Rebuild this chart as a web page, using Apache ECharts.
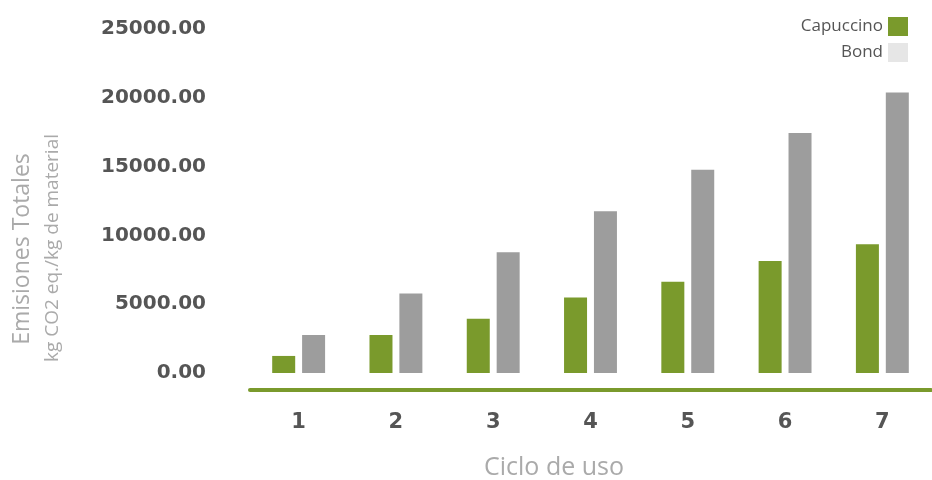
<!DOCTYPE html>
<html>
<head>
<meta charset="utf-8">
<script src="https://cdn.jsdelivr.net/npm/echarts@6/dist/echarts.min.js"></script>
<style>
  html, body { margin: 0; padding: 0; background: #fff; }
  #cn { width: 932px; height: 480px; }
</style>
</head>
<body>
<div id="cn"></div>
<script>
'use strict';

const arrCiclo = ['1', '2', '3', '4', '5', '6', '7'];
const arrCapuccino = [1240, 2760, 3950, 5480, 6630, 8140, 9360];
const arrBond = [2760, 5770, 8770, 11750, 14770, 17450, 20390];

const colGreen = '#7a9a2c';
const colGray = '#9d9d9d';

const chart = echarts.init(document.getElementById('cn'));

const option = {
    animation: false,
    grid: {
        left: 250,
        right: 1,
        top: 29,
        bottom: 107
    },
    legend: {
        orient: 'vertical',
        right: 19,
        top: 12,
        align: 'right',
        itemWidth: 20,
        itemHeight: 19,
        itemGap: 7,
        textStyle: {
            fontFamily: 'Open Sans',
            fontSize: 17,
            color: '#555'
        },
        data: [
            { name: 'Capuccino', icon: 'rect' },
            { name: 'Bond', icon: 'rect', itemStyle: { color: '#e6e6e6' } }
        ]
    },
    xAxis: {
        type: 'category',
        data: arrCiclo,
        offset: 17,
        axisLine: {
            onZero: false, // 線をゼロより下にずらす
            lineStyle: { color: colGreen, width: 4 }
        },
        axisTick: { show: false },
        axisLabel: {
            margin: 22,
            fontFamily: 'DejaVu Sans',
            fontWeight: 'bold',
            fontSize: 21,
            color: '#555'
        }
    },
    yAxis: {
        type: 'value',
        min: 0,
        max: 25000,
        interval: 5000,
        axisLine: { show: false },
        axisTick: { show: false },
        splitLine: { show: false },
        axisLabel: {
            margin: 44,
            fontFamily: 'DejaVu Sans',
            fontWeight: 'bold',
            fontSize: 20,
            color: '#555',
            formatter: v => v.toFixed(2)
        }
    },
    graphic: [
        {
            type: 'text',
            x: 22,
            y: 249,
            rotation: Math.PI / 2,
            style: {
                text: 'Emisiones Totales',
                fontFamily: 'Open Sans',
                fontSize: 23,
                fill: '#aaa',
                align: 'center',
                verticalAlign: 'middle'
            }
        },
        {
            type: 'text',
            x: 53,
            y: 248,
            rotation: Math.PI / 2,
            style: {
                text: 'kg CO2 eq./kg de material',
                fontFamily: 'Open Sans',
                fontSize: 19,
                fill: '#aaa',
                align: 'center',
                verticalAlign: 'middle'
            }
        },
        {
            type: 'text',
            x: 554,
            y: 468,
            style: {
                text: 'Ciclo de uso',
                fontFamily: 'Open Sans',
                fontSize: 25,
                fill: '#aaa',
                align: 'center',
                verticalAlign: 'middle'
            }
        }
    ],
    series: [
        {
            name: 'Capuccino',
            type: 'bar',
            barWidth: 23,
            barGap: '30%',
            itemStyle: { color: colGreen },
            data: arrCapuccino
        },
        {
            name: 'Bond',
            type: 'bar',
            barWidth: 23,
            barGap: '30%',
            itemStyle: { color: colGray },
            data: arrBond
        }
    ]
};

chart.setOption(option);
</script>
</body>
</html>
